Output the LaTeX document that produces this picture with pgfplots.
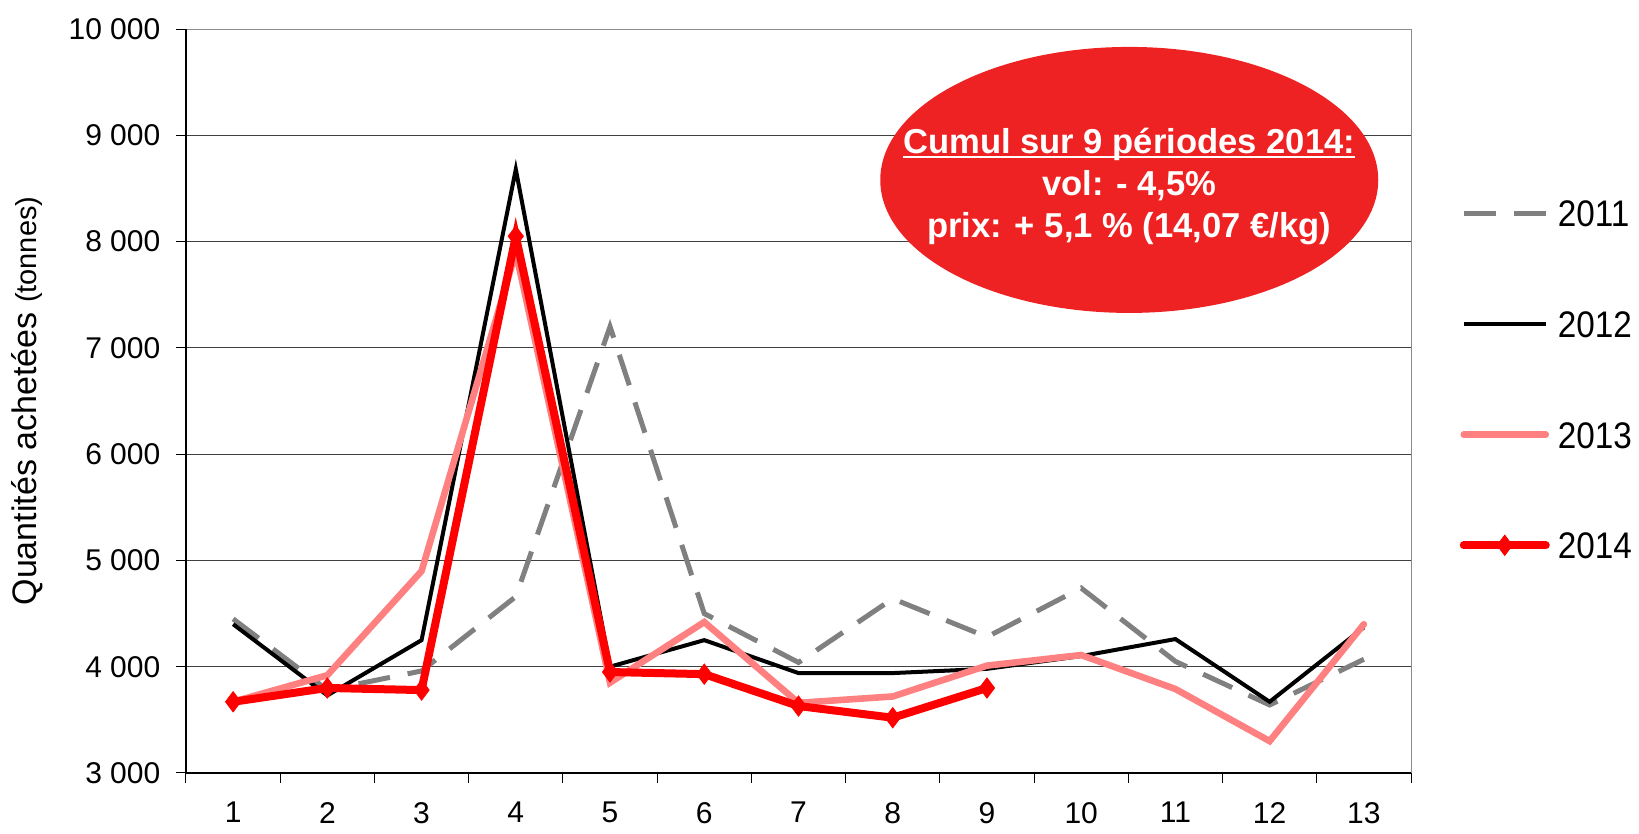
\documentclass[border=0pt]{standalone}
\usepackage{fontspec}
\setmainfont{Liberation Sans}
\usepackage{pgfplots}
\pgfplotsset{compat=1.18}
\definecolor{c2011}{RGB}{128,128,128}
\definecolor{c2013}{RGB}{255,128,128}
\definecolor{c2014}{RGB}{255,0,0}
\definecolor{ell}{RGB}{238,34,34}
\newcommand{\myul}[1]{\setbox0\hbox{#1}\rlap{\rule[-2.2pt]{\wd0}{1.1pt}}\box0}
\newcommand{\legtxt}[1]{\scalebox{0.9}[1]{#1}}
\begin{document}
\begin{tikzpicture}
\begin{axis}[
  scale only axis, width=612.5pt, height=372pt,
  xmin=0.5, xmax=13.5, ymin=3000, ymax=10000,
  clip=false, scaled y ticks=false,
  xtick pos=bottom, ytick pos=left,
  xtick={0.5,1.5,...,13.5}, xticklabels={},
  extra x ticks={1,2,3,4,5,6,7,8,9,10,11,12,13},
  extra x tick labels={1,2,3,4,5,6,7,8,9,10,11,12,13},
  extra x tick style={major tick length=0pt, grid=none,
     xticklabel style={yshift=-11pt}},
  ytick={3000,4000,5000,6000,7000,8000,9000,10000},
  yticklabels={3~000,4~000,5~000,6~000,7~000,8~000,9~000,10~000},
  tick align=outside, major tick length=5pt,
  tick style={black, line width=0.5pt},
  xticklabel style={font=\fontsize{15}{18}\selectfont},
  yticklabel style={font=\fontsize{15}{18}\selectfont, xshift=-4.3pt},
  ymajorgrids, grid style={black!75, line width=0.5pt},
  axis line style={black!45, line width=0.5pt},
  ylabel={\fontsize{17}{20}\selectfont Quantités achetées {\fontsize{14.5}{17}\selectfont(tonnes)}},
  ylabel style={at={(axis description cs:-0.1298,0.5)}, anchor=center},
  legend style={draw=none, fill=none, at={(axis description cs:1.0398,0.529)},
     anchor=west, inner sep=0pt, outer sep=0pt, row sep=42pt, column sep=4pt,
     font=\fontsize{18.5}{22}\selectfont,
     nodes={inner sep=0pt, text height=13.3pt, text depth=0pt}},
  legend cell align=left,
  legend image code/.code={\draw[#1, mark repeat=2, mark phase=2] plot coordinates {(0pt,0pt) (20.5pt,0pt) (41pt,0pt)};},
]
\fill[ell] (axis cs:10.51,8580) ellipse [x radius=124.5pt, y radius=66.5pt];
\node[text=white, align=center, font=\bfseries\fontsize{17.3}{21}\selectfont] at (axis cs:10.51,8520)
  {\myul{Cumul sur 9 périodes 2014:}\\vol: - 4,5\%\\prix: + 5,1 \% (14,07 €/kg)};
\draw[black, line width=0.6pt] (rel axis cs:0,1) |- (rel axis cs:1,0);

\addplot[c2011, line width=2.5pt, dash pattern=on 16pt off 9pt] coordinates {
 (1,4450) (2,3780) (3,3960) (4,4660) (5,7200) (6,4500) (7,4040) (8,4640) (9,4280) (10,4740) (11,4050) (12,3640) (13,4070)};
\addlegendentry{\legtxt{2011}}
\addplot[black, line width=2pt] coordinates {
 (1,4400) (2,3730) (3,4250) (4,8680) (5,4000) (6,4250) (7,3940) (8,3940) (9,3980) (10,4100) (11,4260) (12,3670) (13,4370)};
\addlegendentry{\legtxt{2012}}
\addplot[c2013, line width=3.3pt, line cap=round] coordinates {
 (1,3670) (2,3920) (3,4900) (4,7900) (5,3850) (6,4420) (7,3660) (8,3720) (9,4010) (10,4110) (11,3790) (12,3300) (13,4400)};
\addlegendentry{\legtxt{2013}}
\addplot[c2014, line width=4pt, line cap=round, mark=diamond*, mark size=5pt, mark options={solid, line width=0.5pt}] coordinates {
 (1,3670) (2,3800) (3,3780) (4,8050) (5,3950) (6,3930) (7,3630) (8,3520) (9,3800)};
\addlegendentry{\legtxt{2014}}
\end{axis}
\pgfresetboundingbox
\path (current axis.south west) ++(-93pt,-30.5pt) rectangle ++(819.5pt,417pt);
\end{tikzpicture}
\end{document}
